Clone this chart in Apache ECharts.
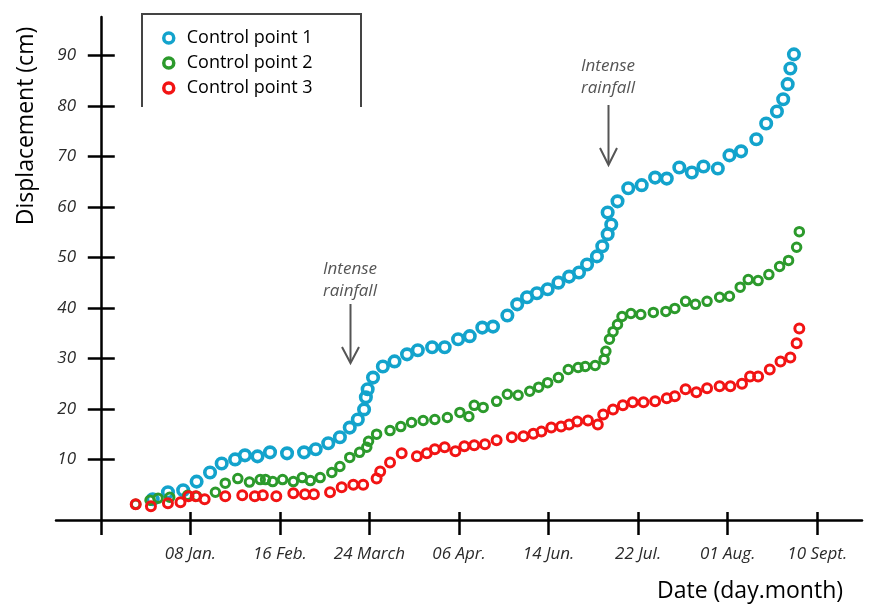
<!DOCTYPE html>
<html>
<head>
<meta charset="utf-8">
<script src="https://cdn.jsdelivr.net/npm/echarts@6/dist/echarts.min.js"></script>
<style>
html,body{margin:0;padding:0;background:#fff;}
#chart{width:871px;height:607px;}
</style>
</head>
<body>
<div id="chart"></div>
<script>
// x positions are in "tick units": 1 = 08 Jan., 2 = 16 Feb., ... 8 = 10 Sept.
const xTickLabels = ['08 Jan.', '16 Feb.', '24 March', '06 Apr.', '14 Jun.', '22 Jul.', '01 Aug.', '10 Sept.'];
const xTickValues = [1, 2, 3, 4, 5, 6, 7, 8];
const yTickValues = [10, 20, 30, 40, 50, 60, 70, 80, 90];
const seriesNames = ['Control point 1', 'Control point 2', 'Control point 3'];

const cp1 = [
  [0.58,2.1],[0.75,3.5],[0.92,3.9],[1.07,5.6],[1.22,7.4],[1.35,9.2],[1.50,10.0],[1.61,10.8],[1.75,10.6],
  [1.89,11.4],[2.08,11.2],[2.27,11.4],[2.40,12.0],[2.54,13.2],[2.67,14.4],[2.78,16.3],[2.87,17.9],[2.94,19.9],
  [2.96,22.3],[2.98,23.9],[3.04,26.2],[3.15,28.4],[3.28,29.4],[3.42,30.8],[3.54,31.6],[3.70,32.2],[3.84,32.2],
  [3.99,33.8],[4.12,34.4],[4.26,36.1],[4.38,36.3],[4.54,38.5],[4.65,40.7],[4.76,42.1],[4.87,42.9],[4.99,43.7],
  [5.11,45.0],[5.23,46.2],[5.34,47.0],[5.43,48.6],[5.54,50.2],[5.60,52.2],[5.66,54.6],[5.70,56.5],[5.66,58.9],
  [5.77,61.1],[5.89,63.7],[6.04,64.3],[6.19,65.8],[6.32,65.6],[6.46,67.8],[6.60,66.8],[6.73,68.0],[6.89,67.6],
  [7.02,70.2],[7.15,71.0],[7.32,73.4],[7.43,76.5],[7.55,78.9],[7.62,81.3],[7.67,84.3],[7.70,87.4],[7.74,90.2]
];
const cp2 = [
  [0.39,1.1],[0.55,1.9],[0.64,2.3],[0.77,2.5],[0.97,2.9],[1.07,2.7],[1.28,3.5],[1.39,5.3],[1.53,6.2],[1.66,5.5],
  [1.78,6.0],[1.84,6.0],[1.92,5.6],[2.03,6.0],[2.15,5.6],[2.25,6.4],[2.34,5.8],[2.45,6.4],[2.58,7.4],[2.67,8.6],
  [2.78,10.4],[2.89,11.4],[2.97,12.4],[2.99,13.6],[3.08,15.0],[3.23,15.7],[3.35,16.5],[3.47,17.3],[3.60,17.7],
  [3.73,17.9],[3.87,18.3],[4.01,19.3],[4.11,18.5],[4.17,20.7],[4.27,20.3],[4.42,21.5],[4.54,22.9],[4.66,22.7],
  [4.79,23.5],[4.89,24.3],[4.99,25.2],[5.11,26.2],[5.22,27.8],[5.33,28.2],[5.41,28.4],[5.52,28.6],[5.62,29.8],
  [5.64,31.4],[5.68,33.8],[5.72,35.3],[5.77,36.7],[5.82,38.3],[5.92,38.9],[6.03,38.7],[6.17,39.1],[6.31,39.3],
  [6.41,39.9],[6.53,41.3],[6.64,40.7],[6.77,41.3],[6.91,42.1],[7.02,42.3],[7.14,44.1],[7.23,45.6],[7.34,45.4],
  [7.46,46.6],[7.58,48.2],[7.68,49.4],[7.77,52.0],[7.80,55.1]
];
const cp3 = [
  [0.39,1.1],[0.56,0.7],[0.75,1.3],[0.89,1.5],[0.98,2.7],[1.06,2.7],[1.16,2.1],[1.39,2.7],[1.58,2.9],[1.72,2.7],
  [1.81,2.9],[1.96,2.7],[2.15,3.3],[2.28,3.1],[2.38,3.1],[2.56,3.5],[2.69,4.5],[2.82,5.0],[2.93,5.0],[3.08,6.2],
  [3.12,7.6],[3.23,9.4],[3.36,11.2],[3.53,10.6],[3.64,11.2],[3.73,12.0],[3.84,12.4],[3.96,11.6],[4.06,12.6],
  [4.17,12.8],[4.29,13.0],[4.42,13.8],[4.59,14.4],[4.72,14.6],[4.83,15.1],[4.92,15.5],[5.03,16.3],[5.14,16.5],
  [5.23,16.9],[5.32,17.5],[5.44,17.7],[5.55,16.9],[5.61,18.9],[5.72,19.9],[5.83,20.7],[5.94,21.3],[6.06,21.3],
  [6.19,21.5],[6.32,22.1],[6.41,22.5],[6.53,23.9],[6.65,23.3],[6.77,24.1],[6.91,24.5],[7.03,24.5],[7.16,25.0],
  [7.25,26.4],[7.34,26.4],[7.47,27.8],[7.59,29.4],[7.70,30.2],[7.77,33.0],[7.80,35.9]
];

const FONT = 'Open Sans';
const colors = ['#13a3cc', '#2c9a2c', '#f21414'];
const sizes = [10.5, 8.5, 9];
const borders = [3.6, 3, 3];

const chart = echarts.init(document.getElementById('chart'), null, {renderer: 'canvas'});

const xCommon = {type: 'value', min: -0.5, max: 8.5, position: 'bottom', splitLine: {show: false}};
const yCommon = {type: 'value', min: -2, max: 97.6, position: 'left', splitLine: {show: false}};

const option = {
  backgroundColor: '#fff',
  animation: false,
  grid: {left: 56, right: 9, top: 17, bottom: 87, containLabel: false},
  xAxis: [
    Object.assign({}, xCommon, {
      axisLine: {onZero: false, lineStyle: {color: '#000', width: 2.5}},
      axisTick: {show: true, inside: false, length: 15, customValues: [0].concat(xTickValues), lineStyle: {color: '#000', width: 2.5}},
      axisLabel: {
        customValues: xTickValues, margin: 26,
        formatter: function (v) { const i = xTickValues.indexOf(Math.round(v)); return i >= 0 ? xTickLabels[i] : ''; },
        fontFamily: FONT, fontStyle: 'italic', fontSize: 17, color: '#2a2a2a'
      }
    }),
    Object.assign({}, xCommon, {
      axisLine: {show: false, onZero: false},
      axisTick: {show: true, inside: true, length: 8, customValues: xTickValues, lineStyle: {color: '#000', width: 2.5}},
      axisLabel: {show: false}
    })
  ],
  yAxis: [
    Object.assign({}, yCommon, {
      axisLine: {show: true, onZero: true, lineStyle: {color: '#000', width: 2.5}},
      axisTick: {show: true, inside: false, length: 13, customValues: yTickValues, lineStyle: {color: '#000', width: 2.5}},
      axisLabel: {customValues: yTickValues, margin: -20, fontFamily: FONT, fontStyle: 'italic', fontSize: 17, color: '#2a2a2a'}
    }),
    Object.assign({}, yCommon, {
      axisLine: {show: false, onZero: true},
      axisTick: {show: true, inside: true, length: 14, customValues: yTickValues, lineStyle: {color: '#000', width: 2.5}},
      axisLabel: {show: false}
    })
  ],
  legend: {
    orient: 'vertical', left: 157, top: 24,
    itemWidth: 26, itemHeight: 10, itemGap: 7,
    data: seriesNames,
    itemStyle: {borderWidth: 3.5},
    textStyle: {fontFamily: FONT, fontSize: 18, color: '#000', lineHeight: 18}
  },
  series: [cp1, cp2, cp3].map(function (d, i) {
    return {
      name: seriesNames[i], type: 'scatter', xAxisIndex: 0, yAxisIndex: 0,
      symbol: 'circle', symbolSize: sizes[i], data: d,
      itemStyle: {color: 'rgba(255,255,255,0)', borderColor: colors[i], borderWidth: borders[i], opacity: 1},
      emphasis: {disabled: true}
    };
  }),
  graphic: [
    {type: 'polyline', shape: {points: [[142, 107], [142, 14], [361, 14], [361, 107]]}, style: {stroke: '#444', lineWidth: 2, fill: null}},
    {type: 'text', x: 26, y: 126, rotation: Math.PI / 2, style: {text: 'Displacement (cm)', fontFamily: FONT, fontSize: 23, fill: '#000', align: 'center', verticalAlign: 'middle'}},
    {type: 'text', x: 750, y: 591, style: {text: 'Date (day.month)', fontFamily: FONT, fontSize: 23, fill: '#000', align: 'center', verticalAlign: 'middle'}},
    {type: 'text', x: 350, y: 269, style: {text: 'Intense', fontFamily: FONT, fontStyle: 'italic', fontSize: 17, fill: '#555', align: 'center', verticalAlign: 'middle'}},
    {type: 'text', x: 350, y: 291, style: {text: 'rainfall', fontFamily: FONT, fontStyle: 'italic', fontSize: 17, fill: '#555', align: 'center', verticalAlign: 'middle'}},
    {type: 'line', shape: {x1: 350.5, y1: 304, x2: 350.5, y2: 362}, style: {stroke: '#555', lineWidth: 2}},
    {type: 'polyline', shape: {points: [[342, 347], [350.5, 363], [359, 347]]}, style: {stroke: '#555', lineWidth: 2, fill: null}},
    {type: 'text', x: 608, y: 66, style: {text: 'Intense', fontFamily: FONT, fontStyle: 'italic', fontSize: 17, fill: '#555', align: 'center', verticalAlign: 'middle'}},
    {type: 'text', x: 608, y: 88, style: {text: 'rainfall', fontFamily: FONT, fontStyle: 'italic', fontSize: 17, fill: '#555', align: 'center', verticalAlign: 'middle'}},
    {type: 'line', shape: {x1: 608.5, y1: 105, x2: 608.5, y2: 164}, style: {stroke: '#555', lineWidth: 2}},
    {type: 'polyline', shape: {points: [[600, 148], [608.5, 165], [617, 148]]}, style: {stroke: '#555', lineWidth: 2, fill: null}}
  ]
};
chart.setOption(option);
</script>
</body>
</html>
